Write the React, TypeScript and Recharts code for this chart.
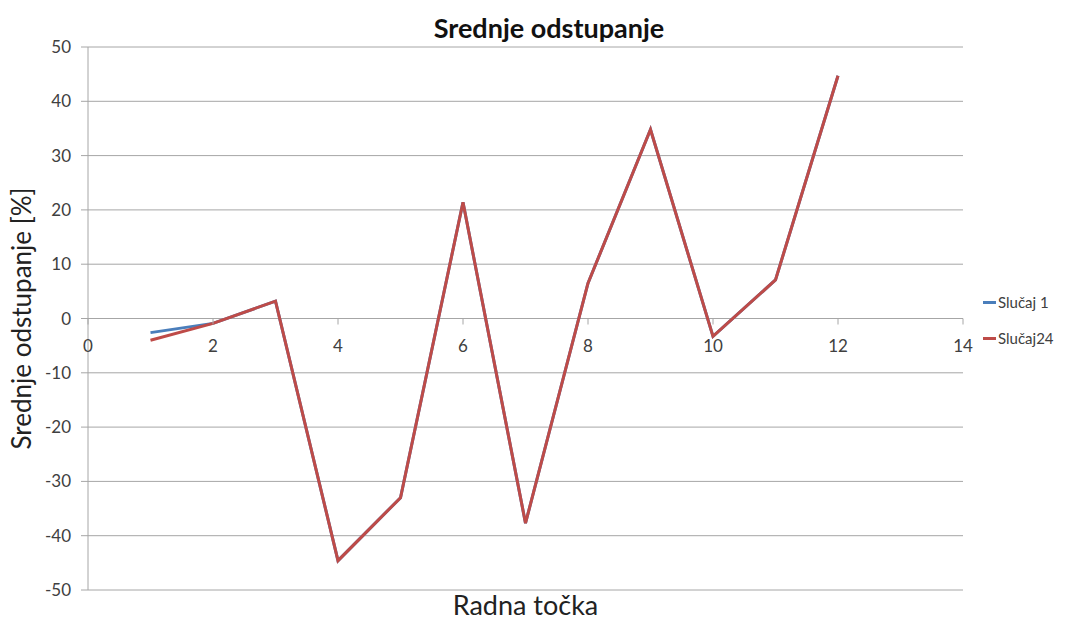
import { LineChart, Line, XAxis, YAxis, CartesianGrid, Legend, ReferenceLine } from "recharts";

const radnaTocka = [1, 2, 3, 4, 5, 6, 7, 8, 9, 10, 11, 12];
const slucaj1 = [-2.6, -0.9, 3.2, -44.6, -33, 21.4, -37.7, 6.5, 34.8, -3.3, 7.1, 44.7];
const slucaj24 = [-4.0, -0.9, 3.2, -44.6, -33, 21.4, -37.7, 6.5, 34.8, -3.3, 7.1, 44.7];
const xTicks = [0, 2, 4, 6, 8, 10, 12, 14];
const yTicks = [-50, -40, -30, -20, -10, 0, 10, 20, 30, 40, 50];

const FONT = "Lato, 'Open Sans', sans-serif";
const PLOT_TOP = 47;
const PLOT_BOTTOM = 590;
const ZERO_Y = PLOT_TOP + (PLOT_BOTTOM - PLOT_TOP) / 2;
const GRID = "#a6a6a6";
const LEGEND_W = 84;

const chartData = radnaTocka.map((x, i) => ({ x, s1: slucaj1[i], s24: slucaj24[i] }));

const XTick = (props: any) => {
  const { x, payload } = props;
  return (
    <g>
      <line x1={x} x2={x} y1={ZERO_Y} y2={ZERO_Y + 6} stroke={GRID} />
      <text x={x} y={ZERO_Y + 33} textAnchor="middle" fontSize={17} fill="#404040" fontFamily={FONT}>
        {payload.value}
      </text>
    </g>
  );
};

const legendItems = [
  { name: "Slučaj 1", color: "#4a7ebb" },
  { name: "Slučaj24", color: "#be4b48" },
];

const LegendBox = () => (
  <div style={{ fontFamily: FONT, fontSize: 15, color: "#404040" }}>
    {legendItems.map((it) => (
      <div key={it.name} style={{ display: "flex", alignItems: "center", height: 36 }}>
        <span style={{ display: "inline-block", width: 13, height: 3, background: it.color, marginRight: 2 }} />
        <span>{it.name}</span>
      </div>
    ))}
  </div>
);

export default function App() {
  return (
    <div style={{ position: "absolute", left: 0, top: 0, width: 1067, height: 623, background: "#fff" }}>
      <div
        style={{
          position: "absolute",
          left: 549,
          top: 10,
          transform: "translateX(-50%)",
          fontFamily: FONT,
          fontWeight: "bold",
          fontSize: 27,
          lineHeight: "36px",
          color: "#111",
          whiteSpace: "nowrap",
        }}
      >
        Srednje odstupanje
      </div>
      <LineChart
        width={1067}
        height={623}
        data={chartData}
        margin={{ top: PLOT_TOP, right: 104 - LEGEND_W, bottom: 623 - PLOT_BOTTOM - 1, left: 0 }}
      >
        <CartesianGrid vertical={false} stroke={GRID} />
        <XAxis
          dataKey="x"
          type="number"
          domain={[0, 14]}
          ticks={xTicks}
          height={1}
          axisLine={false}
          tickLine={false}
          tick={<XTick />}
          interval={0}
          label={{
            value: "Radna točka",
            position: "bottom",
            offset: 5,
            style: { fontFamily: FONT, fontSize: 27, fill: "#222" },
          }}
        />
        <YAxis
          domain={[-50, 50]}
          ticks={yTicks}
          width={88}
          interval={0}
          axisLine={{ stroke: GRID }}
          tickLine={{ stroke: GRID }}
          tickSize={7}
          tickMargin={10}
          tick={{ fontSize: 17, fill: "#404040", fontFamily: FONT }}
          label={{
            value: "Srednje odstupanje [%]",
            angle: -90,
            position: "insideLeft",
            offset: 22,
            style: { textAnchor: "middle", fontFamily: FONT, fontSize: 26, fill: "#222" },
          }}
        />
        <ReferenceLine y={0} stroke={GRID} />
        <Legend
          layout="horizontal"
          verticalAlign="middle"
          align="right"
          content={<LegendBox />}
          wrapperStyle={{ left: 983, top: 284, width: LEGEND_W }}
        />
        <Line type="linear" dataKey="s1" name="Slučaj 1" stroke="#4a7ebb" strokeWidth={3} dot={false} isAnimationActive={false} />
        <Line type="linear" dataKey="s24" name="Slučaj24" stroke="#be4b48" strokeWidth={3} dot={false} isAnimationActive={false} />
      </LineChart>
    </div>
  );
}
